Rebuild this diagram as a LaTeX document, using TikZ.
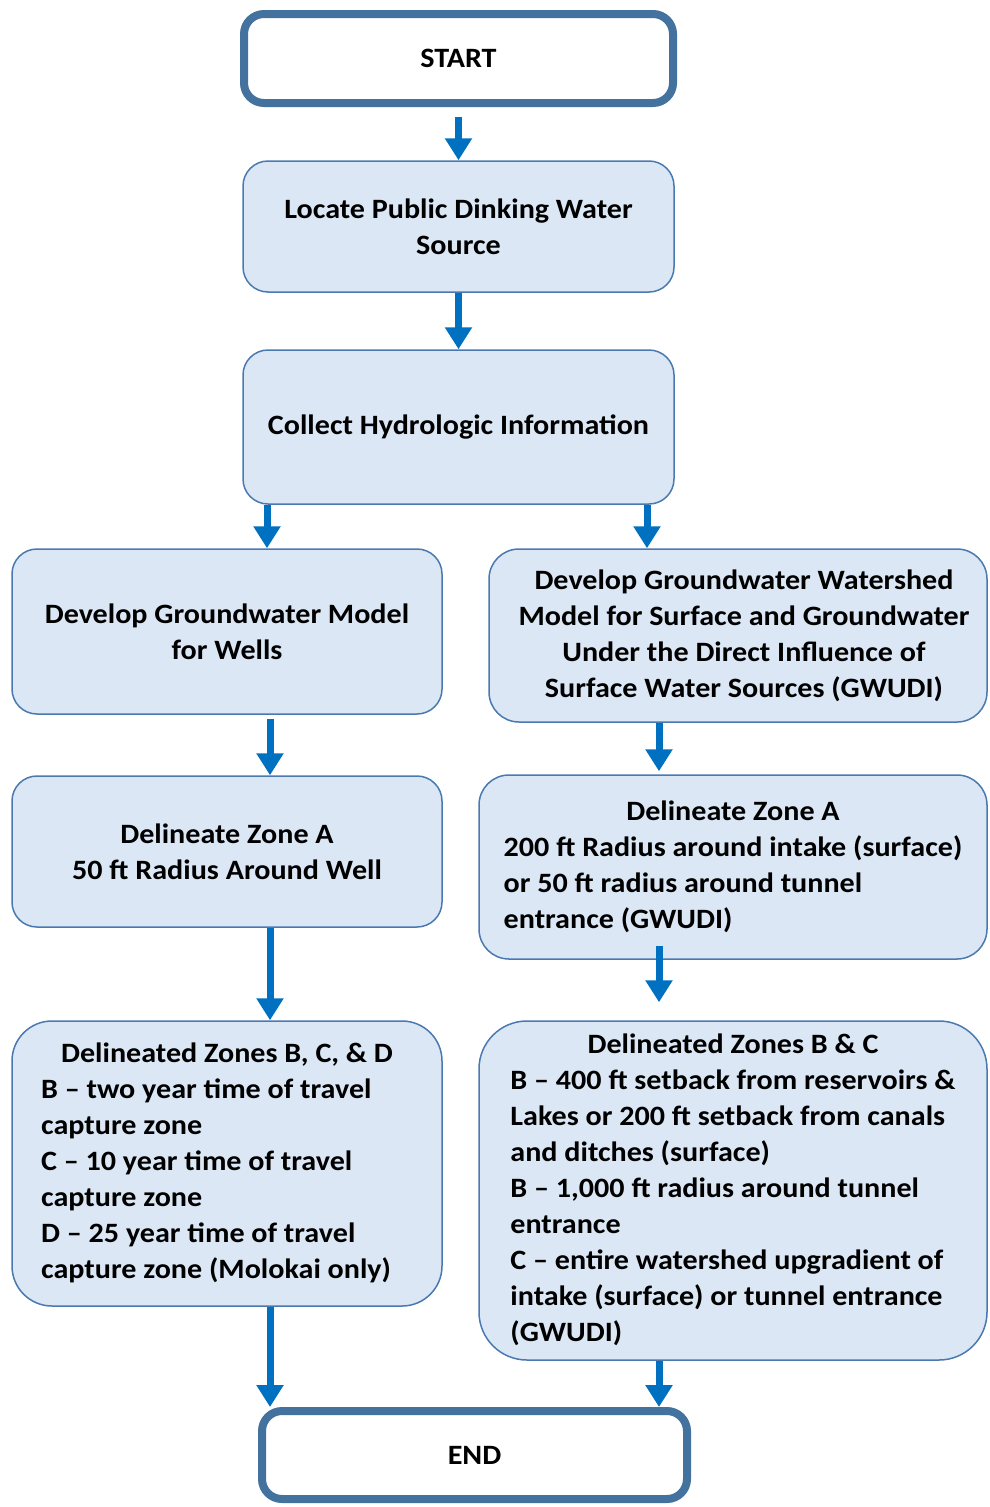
\documentclass[tikz,border=0pt]{standalone}
\usepackage{fontspec}
\setmainfont{Carlito}[FakeStretch=1.075]
\usetikzlibrary{arrows.meta}

\definecolor{boxfill}{RGB}{219,231,244}
\definecolor{boxline}{RGB}{74,121,176}
\definecolor{termline}{RGB}{68,114,159}
\definecolor{flowblue}{RGB}{0,112,192}

\begin{document}
\begin{tikzpicture}[x=1pt,y=1pt,yscale=-1,xscale=1,
  procbox/.style={draw=boxline,line width=1.5pt,fill=boxfill,rounded corners=25pt,align=center,inner sep=0pt,font=\fontsize{28}{36}\selectfont\bfseries},
  termbox/.style={draw=termline,line width=8pt,fill=white,rounded corners=20pt,align=center,inner sep=0pt,font=\fontsize{28}{36}\selectfont\bfseries},
  flow/.style={draw=flowblue,line width=7pt,-{Triangle[width=26pt,length=22pt]}}]
%set diagram size to the reference
\useasboundingbox (0,0) rectangle (989,1507);

%Rounded Rect: start and end
\node[termbox,minimum width=429pt,minimum height=89pt] (start) at (458.5,58.5) {START};
\node[termbox,minimum width=425pt,minimum height=88pt] (end) at (474.5,1455) {END};

%Rounded Rect: centre column
\node[procbox,minimum width=431pt,minimum height=131pt] (locate) at (458.5,226.5) {Locate Public Dinking Water\\Source};
\node[procbox,minimum width=431pt,minimum height=154pt] (collect) at (458.5,427) {Collect Hydrologic Information};

%Rounded Rect: wells column
\node[procbox,minimum width=430pt,minimum height=165pt] (wellmodel) at (227,631.5) {Develop Groundwater Model\\for Wells};
\node[procbox,minimum width=430pt,minimum height=151pt] (wellzonea) at (227,851.5) {Delineate Zone A\\50 ft Radius Around Well};
\node[procbox,rounded corners=40pt,minimum width=430pt,minimum height=285pt] (wellzonebcd) at (227,1163.5)
  {\begin{tabular}{@{}l@{}}
   \multicolumn{1}{@{}l@{}}{\hspace*{20pt}Delineated Zones B, C, \& D}\\
   B -- two year time of travel\\
   capture zone\\
   C -- 10 year time of travel\\
   capture zone\\
   D -- 25 year time of travel\\
   capture zone (Molokai only)
   \end{tabular}\hspace{20pt}};

%Rounded Rect: surface water column
\node[procbox,rounded corners=30pt,minimum width=498pt,minimum height=173pt] (surfmodel) at (738,635.5)
  {\hspace{12pt}Develop Groundwater Watershed\\\hspace{12pt}Model for Surface and Groundwater\\\hspace{12pt}Under the Direct Influence of\\\hspace{12pt}Surface Water Sources (GWUDI)};
\node[procbox,rounded corners=30pt,minimum width=508pt,minimum height=184pt] (surfzonea) at (733,867)
  {\begin{tabular}{@{}l@{}}
   \multicolumn{1}{c}{Delineate Zone A}\\
   200 ft Radius around intake (surface)\\
   or 50 ft radius around tunnel\\
   entrance (GWUDI)
   \end{tabular}};
\node[procbox,rounded corners=48pt,minimum width=508pt,minimum height=339pt] (surfzonebc) at (733,1190.5)
  {\begin{tabular}{@{}l@{}}
   \multicolumn{1}{c}{Delineated Zones B \& C}\\
   B -- 400 ft setback from reservoirs \&\\
   Lakes or 200 ft setback from canals\\
   and ditches (surface)\\
   B -- 1,000 ft radius around tunnel\\
   entrance\\
   C -- entire watershed upgradient of\\
   intake (surface) or tunnel entrance\\
   (GWUDI)
   \end{tabular}};

%Straight Lines: arrows
\draw[flow,shorten <=10pt] (start.south) -- (locate.north);
\draw[flow] (locate.south) -- (collect.north);
\draw[flow] (collect.south -| 267,0) -- (wellmodel.north -| 267,0);
\draw[flow] (collect.south -| 647,0) -- (surfmodel.north -| 647,0);
\draw[flow,shorten <=4pt] (wellmodel.south -| 270,0) -- (wellzonea.north -| 270,0);
\draw[flow,shorten >=3pt] (surfmodel.south -| 659,0) -- (surfzonea.north -| 659,0);
\draw[flow] (wellzonea.south -| 270,0) -- (wellzonebcd.north -| 270,0);
\draw[flow,shorten <=-14pt,shorten >=18pt] (surfzonea.south -| 659,0) -- (surfzonebc.north -| 659,0);
\draw[flow] (wellzonebcd.south -| 270,0) -- (end.north -| 270,0);
\draw[flow] (surfzonebc.south -| 659,0) -- (end.north -| 659,0);

\end{tikzpicture}
\end{document}
